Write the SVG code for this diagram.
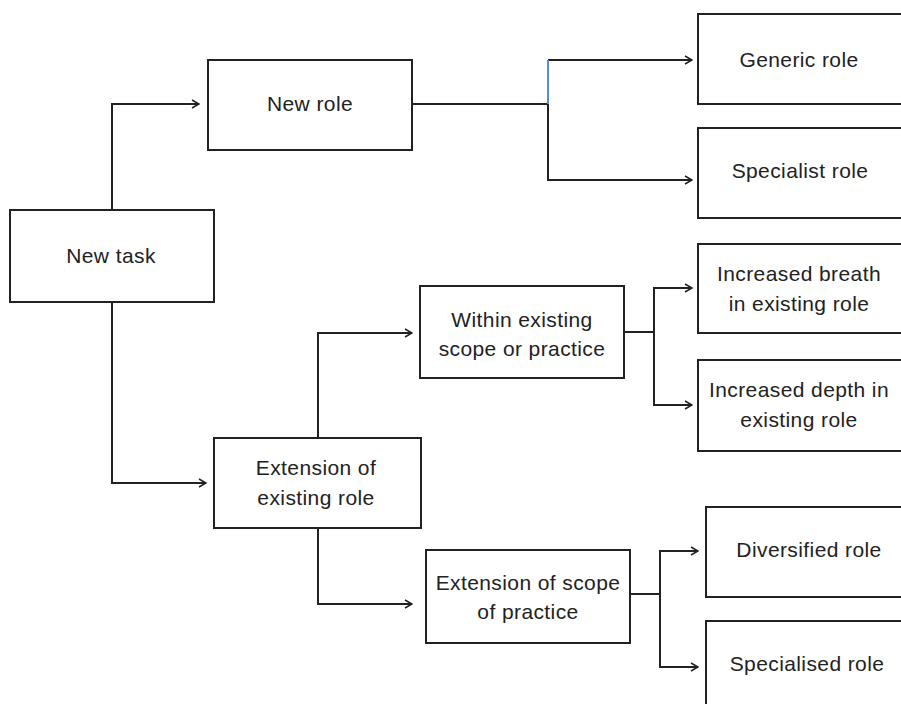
<svg xmlns="http://www.w3.org/2000/svg" width="901" height="704" viewBox="0 0 901 704">
<defs>
<marker id="arr" viewBox="0 0 10 10" refX="9" refY="5" markerWidth="10" markerHeight="10" markerUnits="userSpaceOnUse" orient="auto">
<polyline points="2,1 9,5 2,9" fill="none" stroke="#222" stroke-width="1.6"/>
</marker>
<style>
.box{fill:#fff;stroke:#222;stroke-width:2}
.ln{fill:none;stroke:#222;stroke-width:2}
text{font-family:"Liberation Sans",Arial,sans-serif;font-size:21px;letter-spacing:0.4px;fill:#222;text-anchor:middle}
</style>
</defs>
<rect width="901" height="704" fill="#fff"/>
<g id="connectors">
<polyline class="ln" points="112,210 112,104 199,104" marker-end="url(#arr)"/>
<polyline class="ln" points="412,104 548,104"/>
<polyline class="ln" points="548,104 548,180 692,180" marker-end="url(#arr)"/>
<polyline class="ln" points="548,60 692,60" marker-end="url(#arr)"/>
<line x1="548" y1="60" x2="548" y2="104" stroke="#5b8bd0" stroke-width="2"/>
<polyline class="ln" points="112,302 112,483 206,483" marker-end="url(#arr)"/>
<polyline class="ln" points="318,438 318,333 412,333" marker-end="url(#arr)"/>
<polyline class="ln" points="318,528 318,604 412,604" marker-end="url(#arr)"/>
<polyline class="ln" points="624,332 654,332"/>
<polyline class="ln" points="692,288 654,288 654,405 692,405" marker-end="url(#arr)"/>
<polyline class="ln" points="654,288 692,288" marker-end="url(#arr)"/>
<polyline class="ln" points="630,594 660,594"/>
<polyline class="ln" points="698,551 660,551 660,667 698,667" marker-end="url(#arr)"/>
<polyline class="ln" points="660,551 698,551" marker-end="url(#arr)"/>
</g>
<g id="new-task"><rect class="box" x="10" y="210" width="204" height="92"/><text x="111" y="263">New task</text></g>
<g id="new-role"><rect class="box" x="208" y="60" width="204" height="90"/><text x="310" y="111">New role</text></g>
<g id="generic-role"><rect class="box" x="698" y="14" width="210" height="90"/><text x="799" y="67">Generic role</text></g>
<g id="specialist-role"><rect class="box" x="698" y="128" width="210" height="90"/><text x="800" y="178">Specialist role</text></g>
<g id="increased-breath"><rect class="box" x="698" y="244" width="210" height="89"/><text x="799" y="281">Increased breath</text><text x="799" y="311">in existing role</text></g>
<g id="increased-depth"><rect class="box" x="698" y="360" width="210" height="91"/><text x="799" y="397">Increased depth in</text><text x="799" y="427">existing role</text></g>
<g id="within-existing"><rect class="box" x="420" y="286" width="204" height="92"/><text x="522" y="327">Within existing</text><text x="522" y="356">scope or practice</text></g>
<g id="extension-existing"><rect class="box" x="214" y="438" width="207" height="90"/><text x="316" y="475">Extension of</text><text x="316" y="505">existing role</text></g>
<g id="extension-scope"><rect class="box" x="426" y="550" width="204" height="93"/><text x="528" y="590">Extension of scope</text><text x="528" y="619">of practice</text></g>
<g id="diversified-role"><rect class="box" x="706" y="507" width="210" height="90"/><text x="809" y="557">Diversified role</text></g>
<g id="specialised-role"><rect class="box" x="706" y="621" width="210" height="100"/><text x="807" y="671">Specialised role</text></g>
</svg>
